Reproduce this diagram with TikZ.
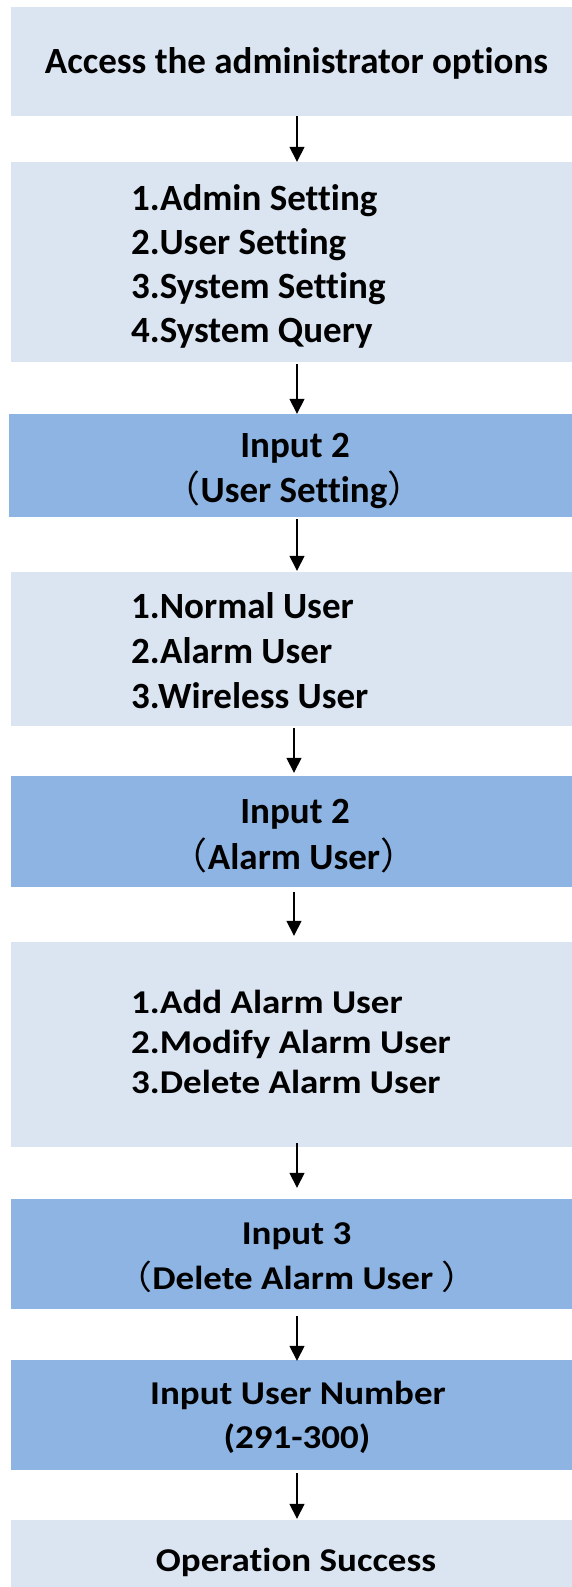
\documentclass[tikz,border=0pt]{standalone}
\usepackage{fontspec}
\setmainfont{Carlito}[Ligatures={NoCommon}]
\newfontfamily\cjk[BoldFont={Noto Sans CJK SC}]{Noto Sans CJK SC}
\usetikzlibrary{arrows.meta}
\definecolor{lightbox}{HTML}{DBE5F1}
\definecolor{darkbox}{HTML}{8EB4E3}
\newcommand\lpar{\makebox[15pt][r]{\cjk （}}
\newcommand\rpar{\makebox[15pt][l]{\cjk ）}}
\newcommand\sq[1]{\scalebox{1}[0.9]{#1}}
\tikzset{
  boxbase/.style={rectangle, draw=none, inner sep=0pt, minimum width=564pt},
  lbox/.style={boxbase, fill=lightbox},
  dbox/.style={boxbase, fill=darkbox},
  txt/.style={inner sep=0pt, font=\fontsize{37}{45}\selectfont\bfseries, anchor=base},
  ltxt/.style={txt, anchor=base west},
  arr/.style={line width=1.5pt, -{Triangle[length=15pt,width=15pt]}}
}
\begin{document}
\begin{tikzpicture}[x=1pt,y=-1pt]
\useasboundingbox (0,0) rectangle (571,1587);
% boxes
\node[lbox, minimum height=109pt] (b1) at (293,61.5) {};
\node[lbox, minimum height=200pt] (b2) at (293,262) {};
\node[dbox, minimum height=103pt, minimum width=566pt] (b3) at (292,465.5) {};
\node[lbox, minimum height=154pt] (b4) at (293,649) {};
\node[dbox, minimum height=111pt] (b5) at (293,831.5) {};
\node[lbox, minimum height=205pt] (b6) at (293,1044.5) {};
\node[dbox, minimum height=110pt] (b7) at (293,1254) {};
\node[dbox, minimum height=110pt] (b8) at (293,1415) {};
\node[lbox, minimum height=80pt] (b9) at (293,1560) {};
% texts
\node[txt] (t1) at (296.5,74) {Access the administrator options};
\node[ltxt] (t2a) at (131,210) {1.Admin Setting};
\node[ltxt] (t2b) at (131,254) {2.User Setting};
\node[ltxt] (t2c) at (131,298) {3.System Setting};
\node[ltxt] (t2d) at (131,342) {4.System Query};
\node[txt] (t3a) at (295,457) {Input 2};
\node[txt] (t3b) at (294,502) {\lpar User Setting\rpar};
\node[ltxt] (t4a) at (131,618) {1.Normal User};
\node[ltxt] (t4b) at (131,663) {2.Alarm User};
\node[ltxt] (t4c) at (131,708) {3.Wireless User};
\node[txt] (t5a) at (295,823) {Input 2};
\node[txt] (t5b) at (294,869) {\lpar Alarm User\rpar};
\node[ltxt] (t6a) at (131,1013) {\sq{1.Add Alarm User}};
\node[ltxt] (t6b) at (131,1053) {\sq{2.Modify Alarm User}};
\node[ltxt] (t6c) at (131,1093) {\sq{3.Delete Alarm User}};
\node[txt] (t7a) at (296.5,1244) {\sq{Input 3}};
\node[txt] (t7b) at (297,1289) {\sq{\lpar Delete Alarm User \rpar}};
\node[txt] (t8a) at (298,1404) {\sq{Input User Number}};
\node[txt] (t8b) at (297,1448) {\sq{(291-300)}};
\node[txt] (t9) at (296,1571) {\sq{Operation Success}};
% arrows
\draw[arr] ([xshift=4pt]b1.south) -- ([xshift=4pt]b2.north);
\draw[arr] ([xshift=4pt,yshift=-2pt]b2.south) -- ([xshift=5pt]b3.north);
\draw[arr] ([xshift=5pt,yshift=-2pt]b3.south) -- ([xshift=4pt,yshift=1pt]b4.north);
\draw[arr] ([xshift=1pt,yshift=-2pt]b4.south) -- ([xshift=1pt,yshift=3pt]b5.north);
\draw[arr] ([xshift=1pt,yshift=-5pt]b5.south) -- ([xshift=1pt,yshift=6pt]b6.north);
\draw[arr] ([xshift=4pt,yshift=4pt]b6.south) -- ([xshift=4pt,yshift=11pt]b7.north);
\draw[arr] ([xshift=4pt,yshift=-7pt]b7.south) -- ([xshift=4pt,yshift=-1pt]b8.north);
\draw[arr] ([xshift=4pt,yshift=-3pt]b8.south) -- ([xshift=4pt,yshift=1pt]b9.north);
\end{tikzpicture}
\end{document}
